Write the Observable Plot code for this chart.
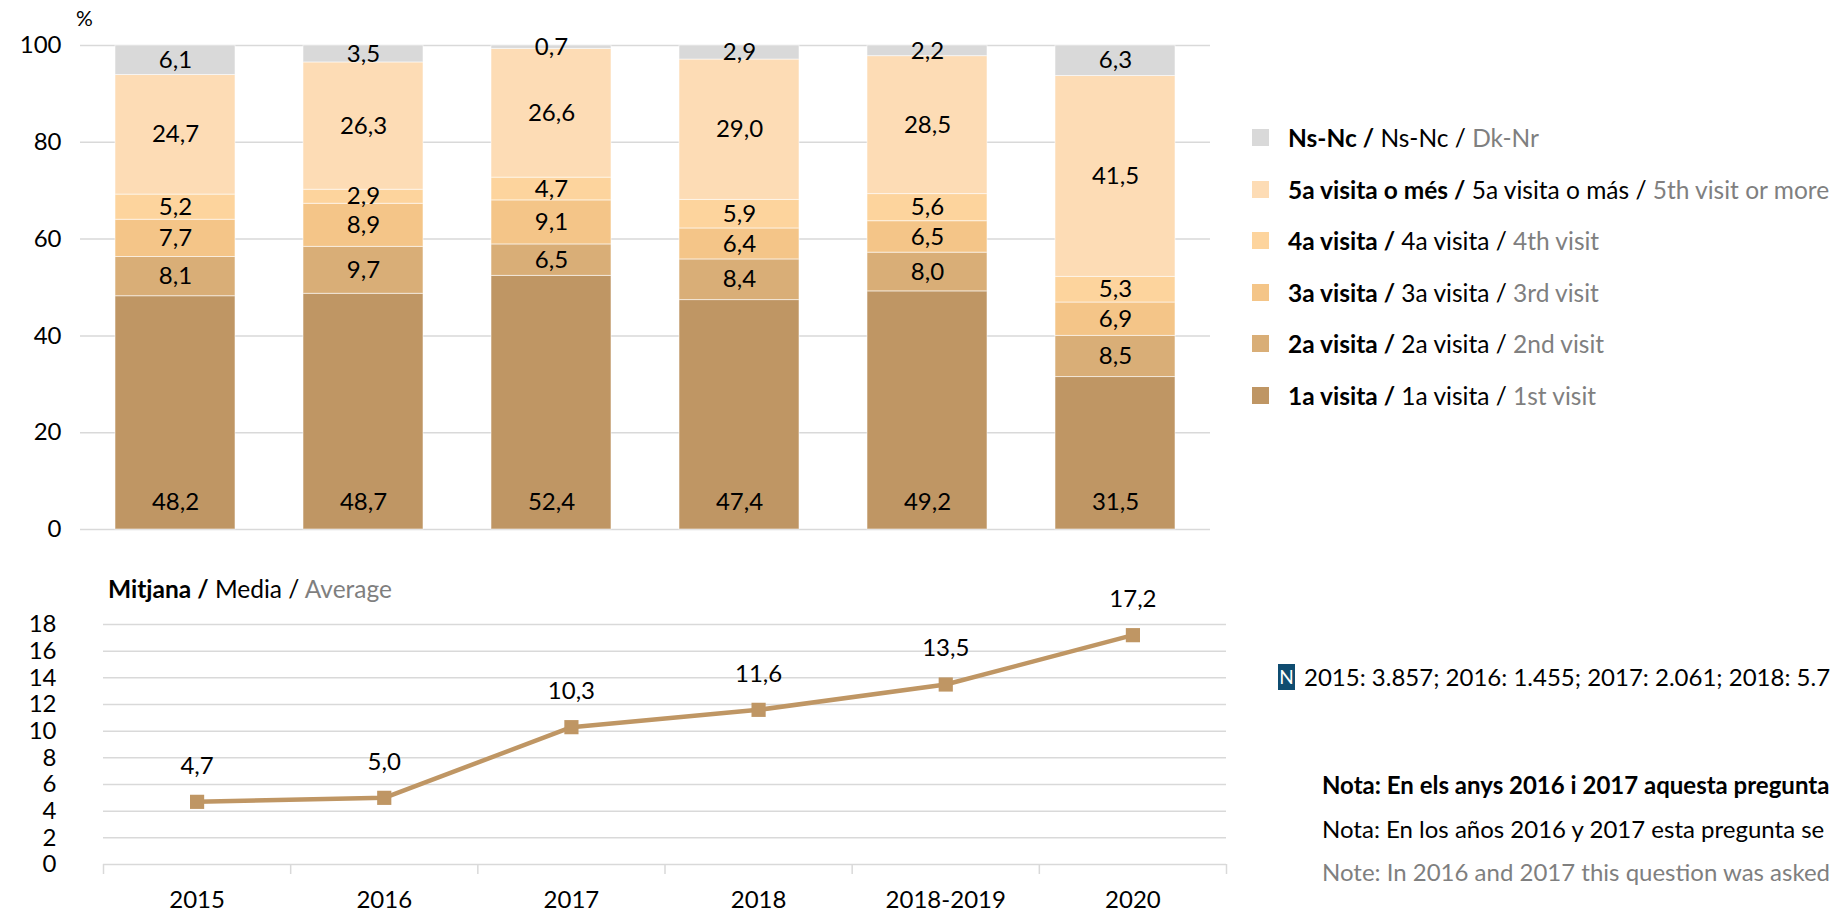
<!DOCTYPE html>
<html>
<head>
<meta charset="utf-8">
<script src="https://cdn.jsdelivr.net/npm/d3@7"></script>
<script src="https://cdn.jsdelivr.net/npm/@observablehq/plot@0.6"></script>
<style>
  html, body { margin: 0; padding: 0; background: #fff; }
  body { width: 1839px; height: 911px; overflow: hidden; position: relative; font-family: Lato, "Open Sans", sans-serif; color: #000; }
  .abs { position: absolute; white-space: nowrap; }
  #top { left: 0; top: 0; }
  #bottom { left: 0; top: 560px; }
  .gray { color: #7f7f7f; }
  b { font-weight: 700; }
  .legrow { position: absolute; left: 0; height: 30px; line-height: 30px; font-size: 24.5px; white-space: nowrap; }
  .sw { position: absolute; left: 0; top: 6px; width: 17px; height: 17px; }
  .legtxt { position: absolute; left: 36px; top: 0; }
</style>
</head>
<body>
<div id="top" class="abs"></div>
<div id="bottom" class="abs"></div>
<div class="abs" style="left:76px; top:5px; font-size:21px;">%</div>
<div id="legend" class="abs" style="left:1252px; top:0;"></div>
<div class="abs" style="left:108px; top:574px; font-size:24.5px;"><b>Mitjana /</b> Media / <span class="gray">Average</span></div>
<div class="abs" style="left:1278px; top:664px; width:17px; height:26px; background:#0f4c70; color:#fff; font-size:19px; line-height:26px; text-align:center;">N</div>
<div id="ntext" class="abs" style="left:1304px; top:662px; font-size:24px; line-height:30px;"></div>
<div id="notes" class="abs" style="left:1322px; top:763px; font-size:24px; line-height:43.5px;"></div>
<script>
// ---------- data ----------
const years = ["2015", "2016", "2017", "2018", "2018-2019", "2020"];
const categories = ["1a visita", "2a visita", "3a visita", "4a visita", "5a visita o més", "Ns-Nc"];
const visit1 = [48.2, 48.7, 52.4, 47.4, 49.2, 31.5];
const visit2 = [8.1, 9.7, 6.5, 8.4, 8.0, 8.5];
const visit3 = [7.7, 8.9, 9.1, 6.4, 6.5, 6.9];
const visit4 = [5.2, 2.9, 4.7, 5.9, 5.6, 5.3];
const visit5 = [24.7, 26.3, 26.6, 29.0, 28.5, 41.5];
const nsnc   = [6.1, 3.5, 0.7, 2.9, 2.2, 6.3];
const average = [4.7, 5.0, 10.3, 11.6, 13.5, 17.2];
const topTicks = [0, 20, 40, 60, 80, 100];
const bottomTicks = [0, 2, 4, 6, 8, 10, 12, 14, 16, 18];
const colors = ["#bf9664", "#d9ae77", "#f4c588", "#fdd49d", "#fddcb5", "#d9d9d9"];
const lineColor = "#bf9664";
const legendCa = ["Ns-Nc", "5a visita o més", "4a visita", "3a visita", "2a visita", "1a visita"];
const legendEs = ["Ns-Nc", "5a visita o más", "4a visita", "3a visita", "2a visita", "1a visita"];
const legendEn = ["Dk-Nr", "5th visit or more", "4th visit", "3rd visit", "2nd visit", "1st visit"];
const legendColorIdx = [5, 4, 3, 2, 1, 0];
const nText = "2015: 3.857; 2016: 1.455; 2017: 2.061; 2018: 5.7";
const notesCa = "Nota: En els anys 2016 i 2017 aquesta pregunta";
const notesEs = "Nota: En los años 2016 y 2017 esta pregunta se";
const notesEn = "Note: In 2016 and 2017 this question was asked";

// ---------- helpers ----------
const fmt = v => d3.format(".1f")(v).replace(".", ",");
const series = [visit1, visit2, visit3, visit4, visit5, nsnc];
const rows = years.flatMap((year, i) => series.map((s, j) => ({year, cat: categories[j], value: s[i]})));
const avgRows = average.map((v, i) => ({i, year: years[i], v}));
const FS = 24;

// ---------- top stacked bar chart ----------
const topChart = Plot.plot({
  width: 1230, height: 545,
  marginTop: 45, marginBottom: 16, marginLeft: 80, marginRight: 20,
  style: {fontFamily: "Lato, 'Open Sans', sans-serif", background: "transparent", overflow: "visible"},
  x: {domain: years, paddingInner: 0.36, paddingOuter: 0.18, label: null, axis: null},
  y: {domain: [0, 100], label: null},
  color: {domain: categories, range: colors},
  marks: [
    Plot.ruleY(topTicks, {stroke: "#d9d9d9", strokeWidth: 1.5}),
    Plot.barY(rows, {x: "year", y: "value", fill: "cat", order: categories, stroke: "#ffffff", strokeOpacity: 0.55, strokeWidth: 1}),
    Plot.text(rows, Plot.stackY({x: "year", y: "value", z: "cat", order: categories,
      text: d => d.cat === categories[0] ? "" : fmt(d.value), fill: "#000", fontSize: FS})),
    Plot.text(rows.filter(d => d.cat === categories[0]), {x: "year", y: 0, dy: -27, text: d => fmt(d.value), fill: "#000", fontSize: FS}),
    Plot.axisY(topTicks, {tickSize: 0, tickPadding: 19, fontSize: FS, fill: "#000", label: null})
  ]
});
document.getElementById("top").appendChild(topChart);

// ---------- bottom line chart ----------
const bottomChart = Plot.plot({
  width: 1240, height: 351,
  marginTop: 64, marginBottom: 47, marginLeft: 103, marginRight: 14,
  style: {fontFamily: "Lato, 'Open Sans', sans-serif", background: "transparent", overflow: "visible"},
  x: {domain: [-0.5, years.length - 0.5], label: null},
  y: {domain: [0, 18], label: null},
  marks: [
    Plot.ruleY(bottomTicks, {stroke: "#d9d9d9", strokeWidth: 1.5}),
    Plot.axisY(bottomTicks, {tickSize: 0, tickPadding: 47, fontSize: FS, fill: "#000", label: null}),
    Plot.axisX(d3.range(years.length + 1).map(i => i - 0.5), {tickSize: 10, stroke: "#d9d9d9", strokeWidth: 1.5, tickFormat: () => "", label: null}),
    Plot.axisX(d3.range(years.length), {tickSize: 0, tickPadding: 26, tickFormat: i => years[i], fontSize: FS, fill: "#000", label: null}),
    Plot.line(avgRows, {x: "i", y: "v", stroke: lineColor, strokeWidth: 4.5}),
    Plot.dot(avgRows, {x: "i", y: "v", symbol: "square", r: 8, fill: lineColor}),
    Plot.text(avgRows, {x: "i", y: "v", text: d => fmt(d.v), dy: -36, fontSize: FS, fill: "#000"})
  ]
});
document.getElementById("bottom").appendChild(bottomChart);

// ---------- legend ----------
const legend = document.getElementById("legend");
legendCa.forEach((ca, k) => {
  const row = document.createElement("div");
  row.className = "legrow";
  row.style.top = (123 + k * 51.5) + "px";
  row.innerHTML = `<div class="sw" style="background:${colors[legendColorIdx[k]]}"></div>` +
    `<div class="legtxt"><b>${ca} /</b> ${legendEs[k]} / <span class="gray">${legendEn[k]}</span></div>`;
  legend.appendChild(row);
});

document.getElementById("ntext").textContent = nText;
document.getElementById("notes").innerHTML =
  `<div><b>${notesCa}</b></div><div>${notesEs}</div><div class="gray">${notesEn}</div>`;
</script>
</body>
</html>
